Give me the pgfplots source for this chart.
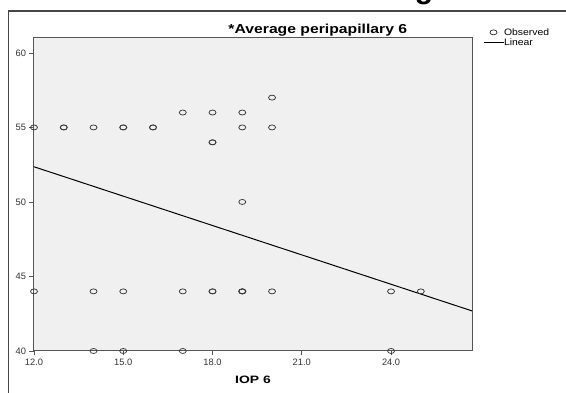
\documentclass[border=0pt]{standalone}
\usepackage{pgfplots}
\pgfplotsset{compat=1.18}
\usepackage{fontspec}
\setmainfont{Liberation Sans}
\definecolor{plotbg}{RGB}{240,240,240}
\definecolor{axgray}{RGB}{85,85,85}
\definecolor{markgray}{RGB}{55,55,55}
\definecolor{framegray}{RGB}{70,70,70}
\definecolor{ticktext}{RGB}{50,50,50}
\begin{document}
\begin{tikzpicture}[x=1pt,y=1pt]
\path[use as bounding box] (0,0) rectangle (566,393);
\begin{scope}
\clip (0,0) rectangle (566,393);
\node[anchor=base, inner sep=0pt, font=\bfseries\fontsize{30}{30}\selectfont] at (424,394) {g};
\end{scope}
\draw[line width=1.2pt, framegray] (8.5,0) -- (8.5,382) -- (566,382);
\begin{axis}[
  at={(34pt,42pt)}, anchor=south west,
  scale only axis, width=438pt, height=313pt,
  xmin=12, xmax=26.72, ymin=40, ymax=61,
  axis background/.style={fill=plotbg},
  axis line style={axgray, line width=1pt},
  xtick={12,15,18,21,24}, ytick={40,45,50,55,60},
  minor tick num=0,
  tick align=outside, major tick length=4.5pt,
  tick style={axgray, line width=0.8pt},
  xtick pos=bottom, ytick pos=left,
  /pgf/number format/assume math mode=true,
  ticklabel style={font=\fontsize{9.3}{9.3}\selectfont, text=ticktext},
  xticklabel style={/pgf/number format/.cd, fixed, fixed zerofill, precision=1},
  yticklabel style={/pgf/number format/.cd, fixed, precision=0},
  title={\scalebox{1.21}[1]{*Average peripapillary 6}},
  title style={at={(axis description cs:0.648,1)}, anchor=base, yshift=-1.2pt, inner sep=0pt, font=\bfseries\fontsize{13}{13}\selectfont},
  xlabel={\scalebox{1.3}[1]{IOP 6}},
  xlabel style={at={(axis description cs:0.5,0)}, anchor=base, yshift=-32.3pt, inner sep=0pt, font=\bfseries\fontsize{10.7}{10.7}\selectfont},
  legend style={at={(axis description cs:1,1)}, anchor=north west, xshift=11pt, yshift=9pt,
    draw=none, fill=none, inner sep=0pt, outer sep=0pt,
    font=\fontsize{9.3}{9.3}\selectfont,
    nodes={inner sep=0pt, text height=6.7pt, text depth=0pt},
    row sep=3.3pt,
    /tikz/every even column/.append style={column sep=2.7pt}},
  legend cell align=left,
  legend image code/.code={\draw[mark repeat=2,mark phase=2,#1] plot coordinates {(0pt,0pt) (10pt,0pt) (20pt,0pt)};},
]
\addplot[only marks, mark=o, mark size=2.5pt, mark options={xscale=1.4, draw=markgray, line width=0.75pt}] coordinates {
(12,55) (13,55) (13,55) (14,55) (15,55) (15,55) (16,55) (16,55) (19,55) (20,55)
(17,56) (18,56) (19,56)
(20,57)
(18,54) (18,54)
(19,50)
(12,44) (14,44) (15,44) (17,44) (18,44) (18,44) (19,44) (19,44) (19,44) (20,44) (24,44) (25,44)
(14,40) (15,40) (17,40) (24,40)
};
\addlegendentry{\scalebox{1.12}[1]{Observed}}
\addplot[black, line width=1pt] coordinates {(12,52.36) (26.72,42.69)};
\addlegendentry{\scalebox{1.12}[1]{Linear}}
\end{axis}
\end{tikzpicture}
\end{document}
